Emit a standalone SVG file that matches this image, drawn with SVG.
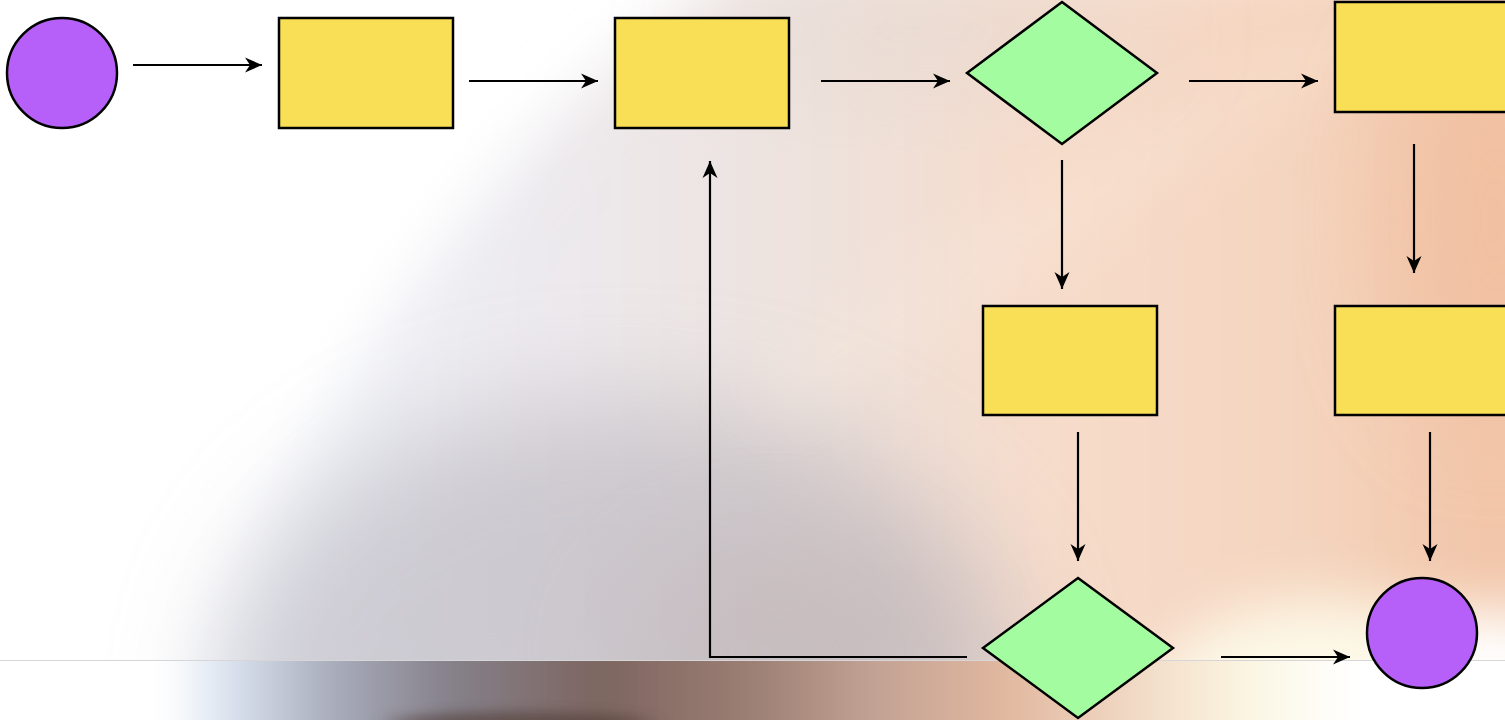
<svg xmlns="http://www.w3.org/2000/svg" width="1505" height="720" viewBox="0 0 1505 720">
  <defs>
    <style>
      .proc { fill: #f9df55; stroke: #000; stroke-width: 2.5; }
      .dec { fill: #a3fda0; stroke: #000; stroke-width: 2.5; }
      .term { fill: #b660f9; stroke: #000; stroke-width: 2.5; }
      .edge { fill: none; stroke: #000; stroke-width: 2.2; marker-end: url(#head); }
    </style>
    <marker id="head" markerUnits="userSpaceOnUse" markerWidth="20" markerHeight="18" refX="17" refY="9" orient="auto">
      <path d="M0,1.5 L17,9 L0,16.5 L5,9 Z" fill="#000"/>
    </marker>
    <filter id="soft" x="-50%" y="-50%" width="200%" height="200%">
      <feGaussianBlur stdDeviation="30"/>
    </filter>
    <filter id="softer" x="-50%" y="-50%" width="200%" height="200%">
      <feGaussianBlur stdDeviation="55"/>
    </filter>
    <filter id="band" x="-20%" y="-100%" width="140%" height="300%">
      <feGaussianBlur stdDeviation="14 6"/>
    </filter>
    <linearGradient id="bodyGrad" x1="190" y1="0" x2="1505" y2="0" gradientUnits="userSpaceOnUse">
      <stop offset="0" stop-color="#f2f7fe"/>
      <stop offset="0.25" stop-color="#eceaef"/>
      <stop offset="0.45" stop-color="#ede3df"/>
      <stop offset="0.65" stop-color="#f6dccb"/>
      <stop offset="0.85" stop-color="#f4d4be"/>
      <stop offset="1" stop-color="#f2c4a7"/>
    </linearGradient>
    <linearGradient id="bandGrad" x1="0" y1="0" x2="1505" y2="0" gradientUnits="userSpaceOnUse">
      <stop offset="0.11" stop-color="#ffffff"/>
      <stop offset="0.15" stop-color="#dce4f0"/>
      <stop offset="0.22" stop-color="#a9adbc"/>
      <stop offset="0.3" stop-color="#858089"/>
      <stop offset="0.4" stop-color="#7d6560"/>
      <stop offset="0.5" stop-color="#9c7f74"/>
      <stop offset="0.58" stop-color="#c2a294"/>
      <stop offset="0.67" stop-color="#e2b8a0"/>
      <stop offset="0.76" stop-color="#f2dcc8"/>
      <stop offset="0.83" stop-color="#fbf6e2"/>
      <stop offset="0.9" stop-color="#ffffff"/>
    </linearGradient>
    <clipPath id="upper"><rect x="0" y="0" width="1505" height="660"/></clipPath>
    <clipPath id="lower"><rect x="0" y="660" width="1505" height="60"/></clipPath>
  </defs>

  <!-- blurred photographic backdrop -->
  <g id="backdrop">
    <rect x="0" y="0" width="1505" height="720" fill="#ffffff"/>
    <g clip-path="url(#upper)">
      <path d="M760,-40 C520,100 310,380 195,700 L1560,700 L1560,-40 Z" fill="url(#bodyGrad)" filter="url(#soft)"/>
      <ellipse cx="620" cy="700" rx="400" ry="300" fill="#b3afb8" opacity="0.55" filter="url(#softer)"/>
      <ellipse cx="780" cy="650" rx="170" ry="110" fill="#b9aaaa" opacity="0.3" filter="url(#softer)"/>
      <ellipse cx="930" cy="30" rx="220" ry="60" fill="#e3d8d2" opacity="0.55" filter="url(#softer)"/>
      <path d="M1380,20 L760,400" stroke="#fbefe2" stroke-width="24" opacity="0.55" filter="url(#soft)"/>
      <ellipse cx="1495" cy="220" rx="100" ry="200" fill="#f1bd9d" opacity="0.65" filter="url(#softer)"/>
      <ellipse cx="1330" cy="690" rx="170" ry="90" fill="#fdf9e8" filter="url(#soft)"/>
      <ellipse cx="1500" cy="690" rx="90" ry="80" fill="#ffffff" filter="url(#soft)"/>
    </g>
    <g clip-path="url(#lower)">
      <rect x="0" y="640" width="1505" height="100" fill="url(#bandGrad)" filter="url(#band)"/>
      <ellipse cx="520" cy="722" rx="130" ry="10" fill="#4e3a36" opacity="0.6" filter="url(#band)"/>
    </g>
    <line x1="0" y1="660.5" x2="1505" y2="660.5" stroke="#d6d6d8" stroke-width="1.2"/>
  </g>

  <!-- connectors -->
  <g id="connectors">
    <line class="edge" x1="133" y1="65" x2="262" y2="65"/>
    <line class="edge" x1="469" y1="81" x2="598" y2="81"/>
    <line class="edge" x1="821" y1="81" x2="950" y2="81"/>
    <line class="edge" x1="1189" y1="81" x2="1318" y2="81"/>
    <line class="edge" x1="1062" y1="160" x2="1062" y2="289"/>
    <line class="edge" x1="1414" y1="144" x2="1414" y2="273"/>
    <line class="edge" x1="1078" y1="432" x2="1078" y2="561"/>
    <line class="edge" x1="1430" y1="432" x2="1430" y2="561"/>
    <line class="edge" x1="1221" y1="657" x2="1350" y2="657"/>
    <polyline class="edge" points="967,657 710,657 710,161"/>
  </g>

  <!-- nodes -->
  <g id="start"><circle class="term" cx="62" cy="73" r="55"/></g>
  <g id="step1"><rect class="proc" x="279" y="18" width="174" height="110"/></g>
  <g id="step2"><rect class="proc" x="615" y="18" width="174" height="110"/></g>
  <g id="check1"><polygon class="dec" points="1062,2 1157,73 1062,144 967,73"/></g>
  <g id="step3"><rect class="proc" x="1335" y="2" width="180" height="110"/></g>
  <g id="step4"><rect class="proc" x="983" y="306" width="174" height="109"/></g>
  <g id="step5"><rect class="proc" x="1335" y="306" width="180" height="109"/></g>
  <g id="check2"><polygon class="dec" points="1078,578 1173,648 1078,718 983,648"/></g>
  <g id="end"><circle class="term" cx="1422" cy="633" r="55"/></g>
</svg>
